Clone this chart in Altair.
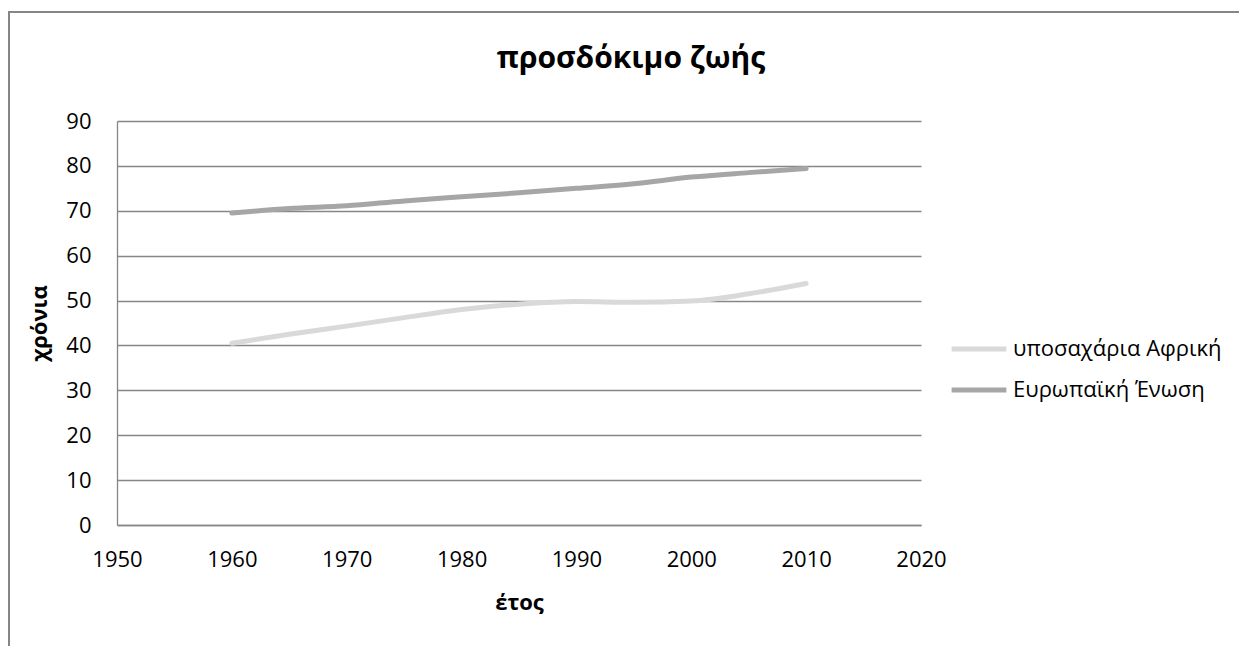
import altair as alt
import pandas as pd

years = [1960, 1965, 1970, 1975, 1980, 1985, 1990, 1995, 2000, 2005, 2010]
africa = [40.5, 42.5, 44.3, 46.2, 48.0, 49.2, 49.8, 49.6, 49.9, 51.5, 53.8]
eu = [69.5, 70.5, 71.1, 72.2, 73.1, 74.0, 75.0, 76.0, 77.5, 78.5, 79.4]
series_names = ["υποσαχάρια Αφρική", "Ευρωπαϊκή Ένωση"]
series_colors = ["#D9D9D9", "#A6A6A6"]
x_ticks = [1950, 1960, 1970, 1980, 1990, 2000, 2010, 2020]
y_ticks = [0, 10, 20, 30, 40, 50, 60, 70, 80, 90]
title_text = "προσδόκιμο ζωής"
x_title = "έτος"
y_title = "χρόνια"

rows = []
for y, a, e in zip(years, africa, eu):
    rows.append({"year": y, "value": a, "series": series_names[0]})
    rows.append({"year": y, "value": e, "series": series_names[1]})
df = pd.DataFrame(rows)

FONT = "Open Sans"
GRID = "#868686"
W, H = 804, 404

lines = alt.Chart(df).mark_line(
    strokeWidth=5, strokeCap="round", interpolate="monotone"
).encode(
    x=alt.X("year:Q", scale=alt.Scale(domain=[1950, 2020], nice=False, zero=False),
            axis=alt.Axis(values=x_ticks, format="d", title=x_title, grid=False,
                          ticks=False, tickSize=0, labelPadding=24, labelFlush=False,
                          labelOverlap=False, domainColor=GRID,
                          domainWidth=1.3, labelFontSize=22, labelFont=FONT,
                          labelColor="#000000", titleFont=FONT, titleFontSize=22,
                          titleFontWeight="bold", titleColor="#000000", titlePadding=22)),
    y=alt.Y("value:Q", scale=alt.Scale(domain=[0, 90], nice=False),
            axis=alt.Axis(values=y_ticks, title=y_title, grid=True, gridColor=GRID,
                          gridWidth=1.3, ticks=False, tickSize=0, labelPadding=26,
                          labelFlush=False, labelOverlap=False,
                          domainColor=GRID, domainWidth=1.3, labelFontSize=22,
                          labelFont=FONT, labelColor="#000000", titleFont=FONT,
                          titleFontSize=22, titleFontWeight="bold", titleColor="#000000",
                          titlePadding=14)),
    color=alt.Color("series:N",
                    scale=alt.Scale(domain=series_names, range=series_colors),
                    legend=alt.Legend(title=None, orient="none", legendX=832, legendY=198,
                                      symbolType="stroke", symbolSize=3000,
                                      symbolStrokeWidth=5, labelFontSize=22,
                                      labelFont=FONT, labelColor="#000000",
                                      labelLimit=400, rowPadding=-1.5, labelOffset=4)),
)

frame_df = pd.DataFrame({"k": [0]})
frame_top = alt.Chart(frame_df).mark_rule(stroke=GRID, strokeWidth=2).encode(
    x=alt.value(-108), x2=alt.value(1400), y=alt.value(-109)
)
frame_left = alt.Chart(frame_df).mark_rule(stroke=GRID, strokeWidth=2).encode(
    x=alt.value(-108), y=alt.value(-110), y2=alt.value(800)
)

title = alt.Chart(frame_df).mark_text(
    font=FONT, fontSize=30, fontWeight="bold", align="center",
    baseline="alphabetic", color="#000000"
).encode(x=alt.value(514), y=alt.value(-53), text=alt.value(title_text))

chart = alt.layer(frame_top, frame_left, lines, title).properties(
    width=W, height=H,
    autosize=alt.AutoSizeParams(type="none"),
    padding={"left": 109, "top": 113, "right": 1231 - 109 - W, "bottom": 638 - 113 - H},
).configure_view(stroke=None)

chart.save("out.html", embed_options={"renderer": "svg", "actions": False})
